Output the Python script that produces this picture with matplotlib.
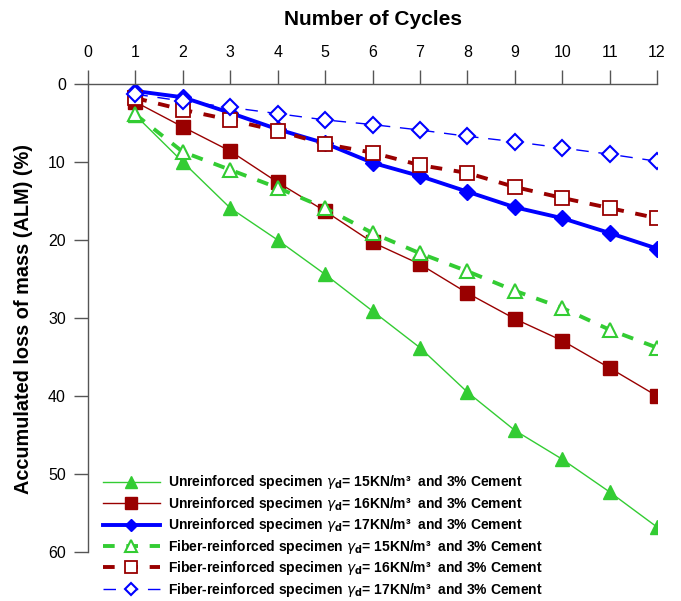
import matplotlib
matplotlib.use("Agg")
import matplotlib.pyplot as plt

plt.rcParams['font.family'] = ['Liberation Sans', 'DejaVu Sans']
plt.rcParams['mathtext.fontset'] = 'dejavusans'

cycles = [1, 2, 3, 4, 5, 6, 7, 8, 9, 10, 11, 12]

unr_15 = [4.0, 10.0, 15.9, 20.0, 24.4, 29.1, 33.8, 39.5, 44.4, 48.1, 52.3, 56.8]
unr_16 = [2.3, 5.5, 8.6, 12.6, 16.3, 20.3, 23.1, 26.8, 30.1, 32.9, 36.4, 40.0]
unr_17 = [0.9, 1.7, 3.7, 5.8, 7.6, 10.1, 11.8, 13.8, 15.8, 17.2, 19.1, 21.1]
fib_15 = [3.9, 8.7, 11.0, 13.3, 15.9, 19.1, 21.7, 24.0, 26.5, 28.7, 31.5, 33.8]
fib_16 = [1.8, 3.3, 4.6, 6.0, 7.7, 8.8, 10.4, 11.4, 13.2, 14.6, 15.9, 17.2]
fib_17 = [1.3, 2.2, 3.0, 3.8, 4.6, 5.2, 5.9, 6.7, 7.4, 8.2, 9.0, 9.9]

green = '#33CC33'
red = '#990000'
blue = '#0000FF'

g = r'$\gamma_{\mathbf{d}}$'
labels = [
    'Unreinforced specimen ' + g + '= 15KN/m³  and 3% Cement',
    'Unreinforced specimen ' + g + '= 16KN/m³  and 3% Cement',
    'Unreinforced specimen ' + g + '= 17KN/m³  and 3% Cement',
    'Fiber-reinforced specimen ' + g + '= 15KN/m³  and 3% Cement',
    'Fiber-reinforced specimen ' + g + '= 16KN/m³  and 3% Cement',
    'Fiber-reinforced specimen ' + g + '= 17KN/m³  and 3% Cement',
]

fig = plt.figure(figsize=(6.81, 6.01), dpi=100)
ax = fig.add_axes([0.1292, 0.0815, 0.8356, 0.7787])

ax.plot(cycles, unr_15, color=green, lw=1, marker='^', ms=10, label=labels[0])
ax.plot(cycles, unr_16, color=red, lw=1, marker='s', ms=10, label=labels[1])
ax.plot(cycles, unr_17, color=blue, lw=2.8, marker='D', ms=8, label=labels[2])
ax.plot(cycles, fib_15, color=green, lw=2.8, ls=(0, (3, 3)), marker='^', ms=10,
        mfc='white', mew=1.5, label=labels[3])
ax.plot(cycles, fib_16, color=red, lw=2.8, ls=(0, (3, 3)), marker='s', ms=10,
        mfc='white', mew=1.3, label=labels[4])
ax.plot(cycles, fib_17, color=blue, lw=1, ls=(0, (9, 7)), marker='D', ms=8,
        mfc='white', mew=1.5, label=labels[5])

ax.set_xlim(0, 12)
ax.set_ylim(60, 0)
ax.set_xticks(range(0, 13))
ax.set_yticks(range(0, 61, 10))
ax.xaxis.tick_top()
ax.xaxis.set_label_position('top')
ax.spines['right'].set_visible(False)
ax.spines['bottom'].set_visible(False)
for s in ['top', 'left']:
    ax.spines[s].set_color('#555555')
    ax.spines[s].set_linewidth(1.0)
ax.tick_params(axis='both', direction='out', length=10, width=1.0,
               color='#555555', labelsize=11.5)
ax.tick_params(axis='x', pad=7)
ax.tick_params(axis='y', pad=6)

ax.set_xlabel('Number of Cycles', fontsize=15, fontweight='bold', labelpad=15)
ax.set_ylabel('Accumulated loss of mass (ALM) (%)', fontsize=14.3,
              fontweight='bold')
ax.yaxis.set_label_coords(-0.097, 0.497)

leg = ax.legend(loc='lower left', bbox_to_anchor=(0.026, -0.100), frameon=False,
                prop={'weight': 'bold', 'size': 10}, handlelength=4.1,
                labelspacing=0.25, markerscale=0.8, handletextpad=0.6,
                borderpad=0, borderaxespad=0)

fig.savefig('out.png', dpi=100)
